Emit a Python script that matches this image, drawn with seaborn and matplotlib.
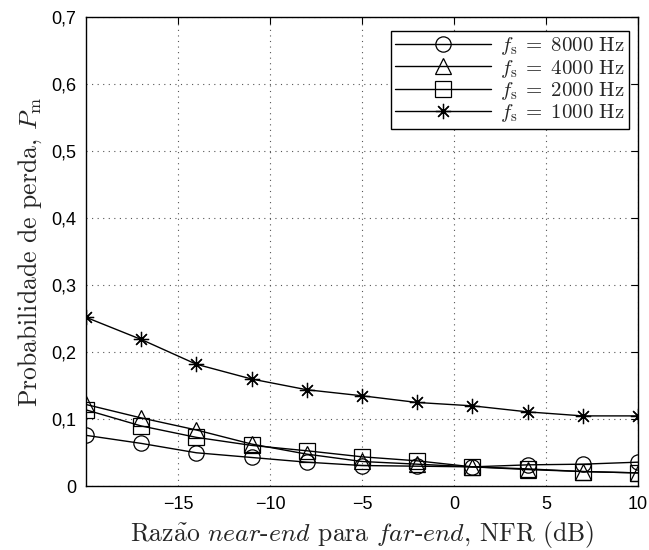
import numpy as np
import pandas as pd
import matplotlib
matplotlib.use('Agg')
import matplotlib.pyplot as plt
from matplotlib.ticker import FuncFormatter
import seaborn as sns

# data
nfr = [-20, -17, -14, -11, -8, -5, -2, 1, 4, 7, 10]
pm_8000 = [0.076, 0.064, 0.050, 0.043, 0.036, 0.031, 0.030, 0.029, 0.032, 0.033, 0.036]
pm_4000 = [0.122, 0.102, 0.084, 0.063, 0.048, 0.037, 0.033, 0.029, 0.025, 0.022, 0.020]
pm_2000 = [0.114, 0.090, 0.073, 0.061, 0.053, 0.044, 0.038, 0.029, 0.026, 0.022, 0.020]
pm_1000 = [0.252, 0.219, 0.182, 0.160, 0.144, 0.135, 0.125, 0.120, 0.111, 0.105, 0.105]
labels = [r'$f_{\mathrm{s}}\; = \;8000\ \mathrm{Hz}$', r'$f_{\mathrm{s}}\; = \;4000\ \mathrm{Hz}$',
          r'$f_{\mathrm{s}}\; = \;2000\ \mathrm{Hz}$', r'$f_{\mathrm{s}}\; = \;1000\ \mathrm{Hz}$']
x_ticks = [-15, -10, -5, 0, 5, 10]
y_ticks = [0, 0.1, 0.2, 0.3, 0.4, 0.5, 0.6, 0.7]

sns.set_style('white')
plt.rcParams['mathtext.fontset'] = 'cm'
plt.rcParams['font.family'] = ['cmr10', 'DejaVu Serif']
plt.rcParams['axes.unicode_minus'] = False

fig = plt.figure(figsize=(6.49, 5.5), dpi=100)
ax = fig.add_axes([0.1325, 0.1158, 0.8505, 0.8535])

markers = ['o', '^', 's', (8, 2, 0)]
series = [pm_8000, pm_4000, pm_2000, pm_1000]
for vals, lab, mk in zip(series, labels, markers):
    df = pd.DataFrame({'nfr': nfr, 'pm': vals})
    sns.lineplot(data=df, x='nfr', y='pm', ax=ax, color='black', lw=1.0,
                 marker=mk, markersize=11, markerfacecolor='none',
                 markeredgecolor='black', markeredgewidth=0.9, label=lab)

ax.set_xlim(-20, 10)
ax.set_ylim(0, 0.7)
ax.set_xticks(x_ticks)
ax.set_yticks(y_ticks)

def fmt_y(v, pos):
    if abs(v) < 1e-9:
        return '0'
    return ('%.1f' % v).replace('.', ',')

def fmt_x(v, pos):
    return ('%d' % v).replace('-', '\u2212')

ax.yaxis.set_major_formatter(FuncFormatter(fmt_y))
ax.xaxis.set_major_formatter(FuncFormatter(fmt_x))
for t in ax.get_xticklabels() + ax.get_yticklabels():
    t.set_family(['Liberation Sans', 'DejaVu Sans'])
    t.set_fontsize(13)

ax.tick_params(direction='in', length=5, width=0.8, top=True, right=True,
               colors='black', pad=7)
ax.grid(True, linestyle=(0, (1, 4)), color='#555555', lw=0.8)
for sp in ax.spines.values():
    sp.set_visible(True)
    sp.set_color('black')
    sp.set_linewidth(1.0)

ax.set_xlabel(r'Raz$\tilde{\mathrm{a}}$o $\mathit{near}$-$\mathit{end}$ para $\mathit{far}$-$\mathit{end}$, NFR (dB)',
              fontsize=18.5, labelpad=4)
ax.set_ylabel(r'Probabilidade de perda, $P_{\mathrm{m}}$', fontsize=18.5, labelpad=5)

leg = ax.legend(loc='upper right', bbox_to_anchor=(0.984, 0.97), fontsize=15,
                frameon=True, fancybox=False, edgecolor='black', framealpha=1,
                handlelength=4.6, borderpad=0.2, labelspacing=0.02,
                handletextpad=0.45, borderaxespad=0)
leg.get_frame().set_linewidth(1.0)

fig.savefig('out.png', dpi=100)
